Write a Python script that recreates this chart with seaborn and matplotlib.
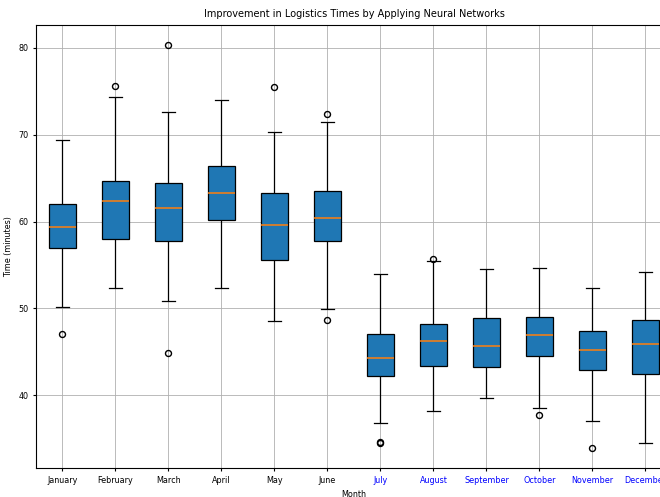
import matplotlib

matplotlib.use("Agg")
import matplotlib.pyplot as plt
import pandas as pd
import seaborn as sns

months = [
    "January", "February", "March", "April", "May", "June",
    "July", "August", "September", "October", "November", "December",
]

# sample times (minutes) per month
january = [47.0, 50.1, 53.5, 56.96, 58.0, 58.8, 59.38, 60.3, 61.2, 62.04, 64.5, 66.8, 69.35]
february = [52.4, 54.8, 56.5, 57.96, 59.5, 61.0, 62.42, 63.2, 64.0, 64.65, 69.0, 74.4, 75.65]
march = [44.8, 50.9, 54.5, 57.73, 59.0, 60.6, 61.54, 62.6, 63.6, 64.5, 68.5, 72.6, 80.3]
april = [52.4, 56.0, 58.5, 60.19, 61.5, 62.4, 63.27, 64.5, 65.5, 66.42, 69.0, 71.5, 74.0]
may = [48.5, 51.5, 53.8, 55.58, 57.0, 58.5, 59.62, 61.0, 62.3, 63.27, 66.5, 70.35, 75.46]
june = [48.65, 49.9, 54.0, 57.73, 58.8, 59.7, 60.46, 61.5, 62.6, 63.5, 67.0, 71.42, 72.42]
july = [34.5, 34.6, 36.82, 42.18, 43.0, 43.7, 44.29, 45.3, 46.2, 47.09, 49.5, 51.5, 53.95]
august = [38.2, 40.5, 42.0, 43.33, 44.5, 45.4, 46.21, 47.0, 47.6, 48.2, 51.0, 55.45, 55.71]
september = [39.62, 41.0, 42.3, 43.22, 44.2, 45.0, 45.71, 46.8, 47.9, 48.85, 50.8, 52.6, 54.48]
october = [37.7, 38.54, 41.5, 44.56, 45.5, 46.3, 46.93, 47.6, 48.3, 49.0, 51.0, 53.0, 54.67]
november = [33.87, 37.0, 40.0, 42.84, 43.8, 44.5, 45.17, 46.0, 46.7, 47.39, 49.0, 50.8, 52.34]
december = [34.48, 37.5, 40.0, 42.41, 43.8, 45.0, 45.9, 46.9, 47.8, 48.62, 50.5, 52.3, 54.14]

samples = [january, february, march, april, may, june,
           july, august, september, october, november, december]

rows = []
for m, vals in zip(months, samples):
    for v in vals:
        rows.append({"Month": m, "Time": v})
df = pd.DataFrame(rows)

plt.rcParams["font.family"] = ["DejaVu Sans"]
plt.rcParams["xtick.major.size"] = 2.0
plt.rcParams["ytick.major.size"] = 2.0

fig = plt.figure(figsize=(6.6, 4.97), dpi=100)
ax = fig.add_axes([36 / 660, 29 / 497, 636 / 660, 443 / 497])

sns.boxplot(
    data=df,
    x="Month",
    y="Time",
    order=months,
    color="#1f77b4",
    saturation=1,
    width=0.5,
    linecolor="black",
    linewidth=0.9,
    fliersize=4.3,
    capwidths=0.25,
    medianprops={"color": "#ff7f0e", "linewidth": 1.1},
    flierprops={"marker": "o", "markerfacecolor": "none", "markeredgecolor": "black"},
    ax=ax,
)

# seaborn turns the categorical grid off, bring both back behind the boxes
ax.grid(True, color="#b0b0b0", linewidth=0.6)
ax.set_axisbelow(True)
ax.set_title("Improvement in Logistics Times by Applying Neural Networks", fontsize=7)
ax.set_xlabel("Month", fontsize=5.8)
ax.set_ylabel("Time (minutes)", fontsize=5.8)
ax.tick_params(axis="both", labelsize=5.8)
ax.set_yticks([40, 50, 60, 70, 80])
ax.set_ylim(31.6, 82.65)

for i, lbl in enumerate(ax.get_xticklabels()):
    if i >= 6:
        lbl.set_color("blue")

fig.savefig("out.png", dpi=100)
